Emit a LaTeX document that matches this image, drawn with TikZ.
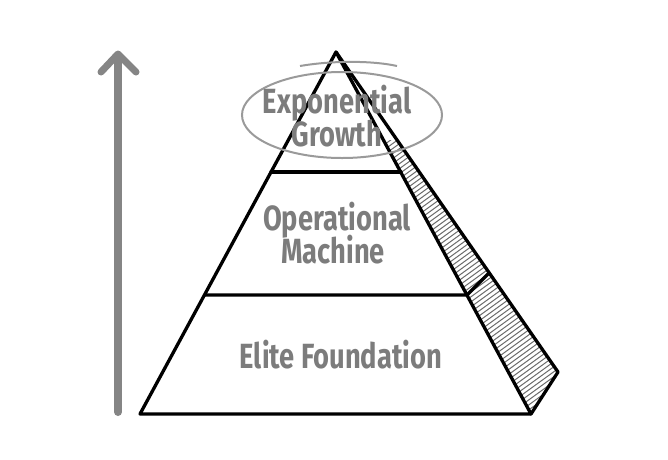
\documentclass[tikz,border=0pt]{standalone}
\usepackage{fontspec}
\setmainfont{Fira Sans}[FakeStretch=0.78]
\definecolor{txtgray}{HTML}{7C7C7C}
\definecolor{arrgray}{HTML}{858585}
\definecolor{ringgray}{HTML}{9A9A9A}
\definecolor{hatchgray}{HTML}{6A6A6A}
\tikzset{
  edge/.style={line width=3.3pt, line join=round, line cap=round, black},
  label/.style={font=\fontsize{35}{36}\selectfont\bfseries, text=txtgray, inner sep=0pt, anchor=base},
  ring/.style={draw=ringgray, line width=2pt},
  hatchline/.style={draw=hatchgray, line width=1pt},
  bigarrow/.style={arrgray, line width=8pt, line cap=round, line join=round}
}
\begin{document}
\begin{tikzpicture}[x=1pt,y=-1pt]
\useasboundingbox (0,0) rectangle (668,459);
% key points
\coordinate (apex) at (336,52);
\coordinate (bl) at (140,414);
\coordinate (br) at (531,414);
\coordinate (so) at (558,372);
\coordinate (h1i) at (383,140);
\coordinate (h1o) at (397,140);
\coordinate (d1l) at (271,172);
\coordinate (d1r) at (401,172);
\coordinate (d2l) at (205,295);
\coordinate (d2r) at (467,295);
\coordinate (d2o) at (489,273);
% hatching on side face
\begin{scope}
  \clip (h1i) -- (br) -- (so) -- (h1o) -- cycle;
  \foreach \k in {0,...,100} {
    \draw[hatchline] (370,{140+\k*5}) -- ++(200,-145);
  }
\end{scope}
% pyramid outlines
\draw[edge] (bl) -- (apex) -- (br) -- cycle;
\draw[edge] (apex) -- (so) -- (br);
\draw[edge] (d1l) -- (d1r);
\draw[edge] (d2l) -- (d2r) -- (d2o);
% arrow
\coordinate (abot) at (118,412);
\coordinate (atop) at (118,56);
\draw[bigarrow] (abot) -- (atop);
\draw[bigarrow, line width=7pt] (101,72) -- (118,54) -- (136,72);
% ring around top label
\draw[ring] (342,115) ellipse [x radius=100, y radius=43];
\draw[ring] (300,66) .. controls (335,60) and (375,61) .. (397,66);
% labels
\node[label] (exp) at (337,113) {Exponential};
\node[label] (gro) at (337,146) {Growth};
\node[label] (ope) at (337,230) {Operational};
\node[label] (mac) at (333,263) {Machine};
\node[label] (eli) at (341,368) {Elite Foundation};
\end{tikzpicture}
\end{document}
